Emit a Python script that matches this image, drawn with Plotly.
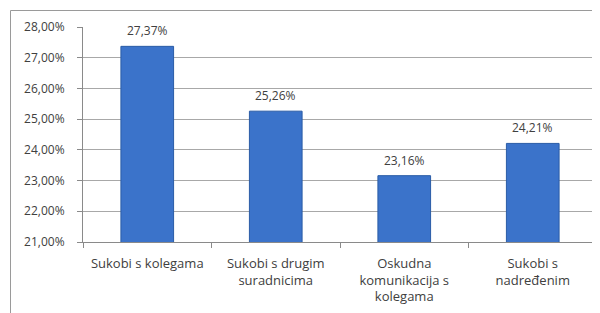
import plotly.graph_objects as go

categories = [
    "Sukobi s kolegama",
    "Sukobi s drugim<br>suradnicima",
    "Oskudna<br>komunikacija s<br>kolegama",
    "Sukobi s<br>nadređenim",
]
values = [27.37, 25.26, 23.16, 24.21]
labels = ["27,37%", "25,26%", "23,16%", "24,21%"]
y_ticks = [21, 22, 23, 24, 25, 26, 27, 28]
y_tick_labels = ["21,00%", "22,00%", "23,00%", "24,00%", "25,00%", "26,00%", "27,00%", "28,00%"]

# page body has an 8px margin, so the figure is sized to fill the rest
W, H = 592, 305
L, R, T, B = 75, 3, 19, 71
pw, ph = W - L - R, H - T - B

fig = go.Figure(
    go.Bar(
        x=categories,
        y=values,
        cliponaxis=False,
        width=0.41,
        marker=dict(color="#3b73ca", line=dict(color="#2a5ca6", width=1)),
        hoverinfo="skip",
    )
)

annotations = [
    dict(x=c, y=v, text=t, xref="x", yref="y", showarrow=False,
         yanchor="bottom", yshift=5,
         font=dict(family="Open Sans", size=12, color="#404040"))
    for c, v, t in zip(categories, values, labels)
]

fig.update_layout(
    width=W,
    height=H,
    margin=dict(l=L, r=R, t=T, b=B, autoexpand=False),
    paper_bgcolor="white",
    plot_bgcolor="white",
    showlegend=False,
    font=dict(family="Open Sans", size=12, color="#404040"),
    annotations=annotations,
    shapes=[
        dict(type="line", xref="paper", yref="paper",
             x0=(2.5 - L) / pw, x1=(W - L) / pw,
             y0=(H - B - 2.5) / ph, y1=(H - B - 2.5) / ph,
             line=dict(color="#9a9a9a", width=1)),
        dict(type="line", xref="paper", yref="paper",
             x0=(2.5 - L) / pw, x1=(2.5 - L) / pw,
             y0=(H - B - 2.5) / ph, y1=-B / ph,
             line=dict(color="#9a9a9a", width=1)),
    ],
)

fig.update_yaxes(
    range=[21, 28],
    tickvals=y_ticks,
    ticktext=y_tick_labels,
    automargin=False,
    showgrid=True,
    gridcolor="#a8a8a8",
    gridwidth=1,
    showline=True,
    linecolor="#8a8a8a",
    ticks="outside",
    ticklen=5,
    tickcolor="#8a8a8a",
    ticklabelstandoff=10,
    tickfont=dict(family="Open Sans", size=12, color="#404040"),
    zeroline=False,
)
fig.update_xaxes(
    automargin=False,
    showline=True,
    linecolor="#8a8a8a",
    ticks="outside",
    tickson="boundaries",
    ticklen=5,
    tickcolor="#8a8a8a",
    ticklabelstandoff=9,
    tickfont=dict(family="Open Sans", size=13, color="#404040"),
    tickangle=0,
)

fig.write_html("out.html")
